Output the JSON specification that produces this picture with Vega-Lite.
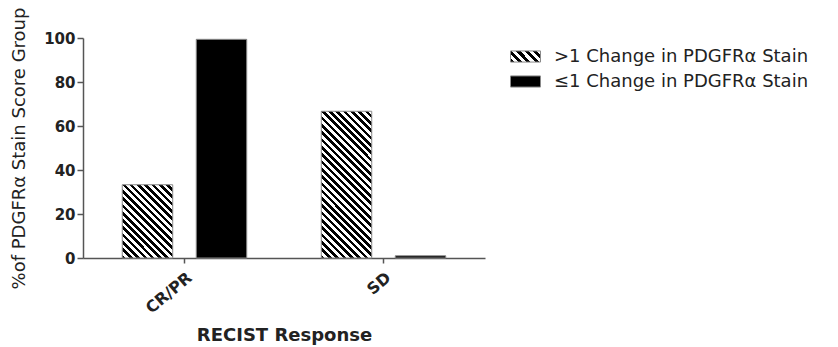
{
  "$schema": "https://vega.github.io/schema/vega-lite/v6.json",
  "width": 402,
  "height": 220,
  "autosize": "none",
  "padding": {"left": 83, "top": 38, "right": 353, "bottom": 89},
  "background": "white",
  "config": {"view": {"stroke": null}},
  "data": {
    "values": [
      {"response": "CR/PR", "group": ">1 Change in PDGFRα Stain", "pct": 33.3},
      {"response": "CR/PR", "group": "≤1 Change in PDGFRα Stain", "pct": 99.4},
      {"response": "SD", "group": ">1 Change in PDGFRα Stain", "pct": 66.7},
      {"response": "SD", "group": "≤1 Change in PDGFRα Stain", "pct": 1}
    ]
  },
  "mark": {"type": "bar", "stroke": "#8a8a8a", "strokeWidth": 1},
  "encoding": {
    "x": {
      "field": "response",
      "type": "nominal",
      "scale": {"paddingInner": 0, "paddingOuter": 0.01},
      "axis": {
        "title": "RECIST  Response",
        "titleFont": "DejaVu Sans",
        "titleFontWeight": "bold",
        "titleFontSize": 18,
        "titleColor": "#222",
        "titleBaseline": "alphabetic",
        "titleY": 82,
        "labelAngle": -40,
        "labelFont": "DejaVu Sans",
        "labelFontWeight": "bold",
        "labelFontSize": 16,
        "labelColor": "#222",
        "labelPadding": 6,
        "tickSize": 5,
        "tickColor": "#555",
        "tickWidth": 1.5,
        "domainColor": "#555",
        "domainWidth": 1.5,
        "grid": false
      }
    },
    "xOffset": {
      "field": "group",
      "type": "nominal",
      "scale": {
        "domain": [">1 Change in PDGFRα Stain", "≤1 Change in PDGFRα Stain"],
        "paddingInner": 0.318,
        "paddingOuter": 0.5036
      }
    },
    "y": {
      "field": "pct",
      "type": "quantitative",
      "scale": {"domain": [0, 100]},
      "axis": {
        "title": "%of PDGFRα Stain Score Group",
        "titleFont": "DejaVu Sans",
        "titleFontWeight": "normal",
        "titleFontSize": 18,
        "titleColor": "#222",
        "titleBaseline": "alphabetic",
        "titleX": -59,
        "titleY": 110,
        "values": [0, 20, 40, 60, 80, 100],
        "labelFont": "DejaVu Sans",
        "labelFontWeight": "bold",
        "labelFontSize": 15,
        "labelColor": "#222",
        "labelPadding": 2,
        "tickSize": 6,
        "tickColor": "#555",
        "tickWidth": 1.5,
        "domainColor": "#555",
        "domainWidth": 1.5,
        "grid": false
      }
    },
    "fill": {
      "field": "group",
      "type": "nominal",
      "scale": {
        "domain": [">1 Change in PDGFRα Stain", "≤1 Change in PDGFRα Stain"],
        "range": [
          {"expr": "{gradient: 'linear', x1: 0, y1: 1, x2: 1.2047, y2: 0.558, stops: [{offset: 0, color: '#000'}, {offset: 0.1, color: '#000'}, {offset: 0.1, color: '#fff'}, {offset: 0.2, color: '#fff'}, {offset: 0.2, color: '#000'}, {offset: 0.3, color: '#000'}, {offset: 0.3, color: '#fff'}, {offset: 0.4, color: '#fff'}, {offset: 0.4, color: '#000'}, {offset: 0.5, color: '#000'}, {offset: 0.5, color: '#fff'}, {offset: 0.6, color: '#fff'}, {offset: 0.6, color: '#000'}, {offset: 0.7, color: '#000'}, {offset: 0.7, color: '#fff'}, {offset: 0.8, color: '#fff'}, {offset: 0.8, color: '#000'}, {offset: 0.9, color: '#000'}, {offset: 0.9, color: '#fff'}, {offset: 1, color: '#fff'}]}"},
          "#000000"
        ]
      },
      "condition": [
        {
          "test": "datum.response === 'CR/PR' && datum.group === '>1 Change in PDGFRα Stain'",
          "value": {
            "gradient": "linear", "x1": 0, "y1": 1, "x2": 0.789, "y2": -0.145,
            "stops": [
              {"offset": 0, "color": "#000"}, {"offset": 0.0294, "color": "#000"},
              {"offset": 0.0294, "color": "#fff"}, {"offset": 0.0588, "color": "#fff"},
              {"offset": 0.0588, "color": "#000"}, {"offset": 0.0882, "color": "#000"},
              {"offset": 0.0882, "color": "#fff"}, {"offset": 0.1176, "color": "#fff"},
              {"offset": 0.1176, "color": "#000"}, {"offset": 0.1471, "color": "#000"},
              {"offset": 0.1471, "color": "#fff"}, {"offset": 0.1765, "color": "#fff"},
              {"offset": 0.1765, "color": "#000"}, {"offset": 0.2059, "color": "#000"},
              {"offset": 0.2059, "color": "#fff"}, {"offset": 0.2353, "color": "#fff"},
              {"offset": 0.2353, "color": "#000"}, {"offset": 0.2647, "color": "#000"},
              {"offset": 0.2647, "color": "#fff"}, {"offset": 0.2941, "color": "#fff"},
              {"offset": 0.2941, "color": "#000"}, {"offset": 0.3235, "color": "#000"},
              {"offset": 0.3235, "color": "#fff"}, {"offset": 0.3529, "color": "#fff"},
              {"offset": 0.3529, "color": "#000"}, {"offset": 0.3824, "color": "#000"},
              {"offset": 0.3824, "color": "#fff"}, {"offset": 0.4118, "color": "#fff"},
              {"offset": 0.4118, "color": "#000"}, {"offset": 0.4412, "color": "#000"},
              {"offset": 0.4412, "color": "#fff"}, {"offset": 0.4706, "color": "#fff"},
              {"offset": 0.4706, "color": "#000"}, {"offset": 0.5, "color": "#000"},
              {"offset": 0.5, "color": "#fff"}, {"offset": 0.5294, "color": "#fff"},
              {"offset": 0.5294, "color": "#000"}, {"offset": 0.5588, "color": "#000"},
              {"offset": 0.5588, "color": "#fff"}, {"offset": 0.5882, "color": "#fff"},
              {"offset": 0.5882, "color": "#000"}, {"offset": 0.6176, "color": "#000"},
              {"offset": 0.6176, "color": "#fff"}, {"offset": 0.6471, "color": "#fff"},
              {"offset": 0.6471, "color": "#000"}, {"offset": 0.6765, "color": "#000"},
              {"offset": 0.6765, "color": "#fff"}, {"offset": 0.7059, "color": "#fff"},
              {"offset": 0.7059, "color": "#000"}, {"offset": 0.7353, "color": "#000"},
              {"offset": 0.7353, "color": "#fff"}, {"offset": 0.7647, "color": "#fff"},
              {"offset": 0.7647, "color": "#000"}, {"offset": 0.7941, "color": "#000"},
              {"offset": 0.7941, "color": "#fff"}, {"offset": 0.8235, "color": "#fff"},
              {"offset": 0.8235, "color": "#000"}, {"offset": 0.8529, "color": "#000"},
              {"offset": 0.8529, "color": "#fff"}, {"offset": 0.8824, "color": "#fff"},
              {"offset": 0.8824, "color": "#000"}, {"offset": 0.9118, "color": "#000"},
              {"offset": 0.9118, "color": "#fff"}, {"offset": 0.9412, "color": "#fff"},
              {"offset": 0.9412, "color": "#000"}, {"offset": 0.9706, "color": "#000"},
              {"offset": 0.9706, "color": "#fff"}, {"offset": 1, "color": "#fff"}
            ]
          }
        },
        {
          "test": "datum.response === 'SD' && datum.group === '>1 Change in PDGFRα Stain'",
          "value": {
            "gradient": "linear", "x1": 0, "y1": 1, "x2": 0.4137, "y2": -0.2018,
            "stops": [
              {"offset": 0, "color": "#000"}, {"offset": 0.0185, "color": "#000"},
              {"offset": 0.0185, "color": "#fff"}, {"offset": 0.037, "color": "#fff"},
              {"offset": 0.037, "color": "#000"}, {"offset": 0.0556, "color": "#000"},
              {"offset": 0.0556, "color": "#fff"}, {"offset": 0.0741, "color": "#fff"},
              {"offset": 0.0741, "color": "#000"}, {"offset": 0.0926, "color": "#000"},
              {"offset": 0.0926, "color": "#fff"}, {"offset": 0.1111, "color": "#fff"},
              {"offset": 0.1111, "color": "#000"}, {"offset": 0.1296, "color": "#000"},
              {"offset": 0.1296, "color": "#fff"}, {"offset": 0.1481, "color": "#fff"},
              {"offset": 0.1481, "color": "#000"}, {"offset": 0.1667, "color": "#000"},
              {"offset": 0.1667, "color": "#fff"}, {"offset": 0.1852, "color": "#fff"},
              {"offset": 0.1852, "color": "#000"}, {"offset": 0.2037, "color": "#000"},
              {"offset": 0.2037, "color": "#fff"}, {"offset": 0.2222, "color": "#fff"},
              {"offset": 0.2222, "color": "#000"}, {"offset": 0.2407, "color": "#000"},
              {"offset": 0.2407, "color": "#fff"}, {"offset": 0.2593, "color": "#fff"},
              {"offset": 0.2593, "color": "#000"}, {"offset": 0.2778, "color": "#000"},
              {"offset": 0.2778, "color": "#fff"}, {"offset": 0.2963, "color": "#fff"},
              {"offset": 0.2963, "color": "#000"}, {"offset": 0.3148, "color": "#000"},
              {"offset": 0.3148, "color": "#fff"}, {"offset": 0.3333, "color": "#fff"},
              {"offset": 0.3333, "color": "#000"}, {"offset": 0.3519, "color": "#000"},
              {"offset": 0.3519, "color": "#fff"}, {"offset": 0.3704, "color": "#fff"},
              {"offset": 0.3704, "color": "#000"}, {"offset": 0.3889, "color": "#000"},
              {"offset": 0.3889, "color": "#fff"}, {"offset": 0.4074, "color": "#fff"},
              {"offset": 0.4074, "color": "#000"}, {"offset": 0.4259, "color": "#000"},
              {"offset": 0.4259, "color": "#fff"}, {"offset": 0.4444, "color": "#fff"},
              {"offset": 0.4444, "color": "#000"}, {"offset": 0.463, "color": "#000"},
              {"offset": 0.463, "color": "#fff"}, {"offset": 0.4815, "color": "#fff"},
              {"offset": 0.4815, "color": "#000"}, {"offset": 0.5, "color": "#000"},
              {"offset": 0.5, "color": "#fff"}, {"offset": 0.5185, "color": "#fff"},
              {"offset": 0.5185, "color": "#000"}, {"offset": 0.537, "color": "#000"},
              {"offset": 0.537, "color": "#fff"}, {"offset": 0.5556, "color": "#fff"},
              {"offset": 0.5556, "color": "#000"}, {"offset": 0.5741, "color": "#000"},
              {"offset": 0.5741, "color": "#fff"}, {"offset": 0.5926, "color": "#fff"},
              {"offset": 0.5926, "color": "#000"}, {"offset": 0.6111, "color": "#000"},
              {"offset": 0.6111, "color": "#fff"}, {"offset": 0.6296, "color": "#fff"},
              {"offset": 0.6296, "color": "#000"}, {"offset": 0.6481, "color": "#000"},
              {"offset": 0.6481, "color": "#fff"}, {"offset": 0.6667, "color": "#fff"},
              {"offset": 0.6667, "color": "#000"}, {"offset": 0.6852, "color": "#000"},
              {"offset": 0.6852, "color": "#fff"}, {"offset": 0.7037, "color": "#fff"},
              {"offset": 0.7037, "color": "#000"}, {"offset": 0.7222, "color": "#000"},
              {"offset": 0.7222, "color": "#fff"}, {"offset": 0.7407, "color": "#fff"},
              {"offset": 0.7407, "color": "#000"}, {"offset": 0.7593, "color": "#000"},
              {"offset": 0.7593, "color": "#fff"}, {"offset": 0.7778, "color": "#fff"},
              {"offset": 0.7778, "color": "#000"}, {"offset": 0.7963, "color": "#000"},
              {"offset": 0.7963, "color": "#fff"}, {"offset": 0.8148, "color": "#fff"},
              {"offset": 0.8148, "color": "#000"}, {"offset": 0.8333, "color": "#000"},
              {"offset": 0.8333, "color": "#fff"}, {"offset": 0.8519, "color": "#fff"},
              {"offset": 0.8519, "color": "#000"}, {"offset": 0.8704, "color": "#000"},
              {"offset": 0.8704, "color": "#fff"}, {"offset": 0.8889, "color": "#fff"},
              {"offset": 0.8889, "color": "#000"}, {"offset": 0.9074, "color": "#000"},
              {"offset": 0.9074, "color": "#fff"}, {"offset": 0.9259, "color": "#fff"},
              {"offset": 0.9259, "color": "#000"}, {"offset": 0.9444, "color": "#000"},
              {"offset": 0.9444, "color": "#fff"}, {"offset": 0.963, "color": "#fff"},
              {"offset": 0.963, "color": "#000"}, {"offset": 0.9815, "color": "#000"},
              {"offset": 0.9815, "color": "#fff"}, {"offset": 1, "color": "#fff"}
            ]
          }
        }
      ],
      "legend": {
        "title": null,
        "orient": "none",
        "legendX": 427,
        "legendY": 3,
        "padding": 0,
        "symbolType": "M-1,-0.37H1V0.37H-1Z",
        "symbolSize": 900,
        "symbolStrokeColor": "#8a8a8a",
        "symbolStrokeWidth": 1,
        "symbolOpacity": 1,
        "labelFont": "DejaVu Sans",
        "labelFontSize": 18,
        "labelColor": "#222",
        "labelOffset": 13,
        "labelLimit": 400,
        "rowPadding": -7
      }
    }
  }
}
